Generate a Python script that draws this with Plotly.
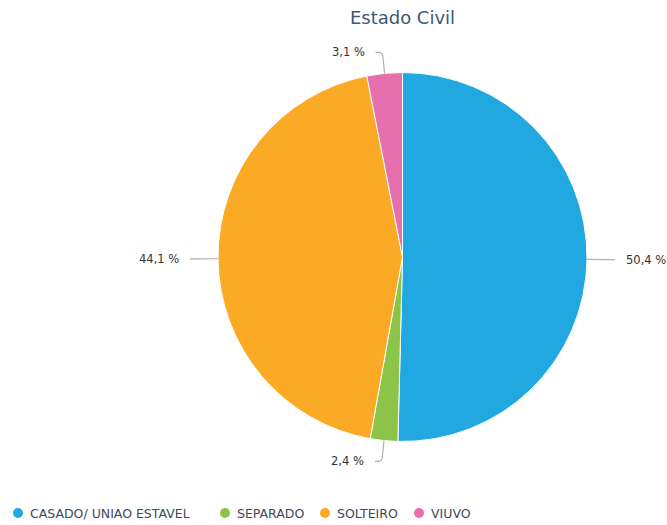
import math
import plotly.graph_objects as go

# Marital status distribution (%)
categories = ["CASADO/ UNIAO ESTAVEL", "SEPARADO", "SOLTEIRO", "VIUVO"]
values = [50.4, 2.4, 44.1, 3.1]
colors = ["#22a8e0", "#8cc44a", "#fbaa26", "#e670ae"]

W, H = 667, 525
CX, CY, R = 402.5, 257.0, 184.5   # pie centre and radius in pixels
FONT = "DejaVu Sans"

# legend row layout (pixel positions of the symbol centres)
LEGEND_Y = 513
LEGEND_X = [18, 225, 325, 419]

fig = go.Figure()

fig.add_trace(go.Pie(
    labels=categories,
    values=values,
    sort=False,
    direction="clockwise",
    rotation=0,
    marker=dict(colors=colors, line=dict(color="white", width=1)),
    textinfo="none",
    hoverinfo="label+percent",
    showlegend=False,
    domain=dict(x=[(CX - R) / W, (CX + R) / W],
                y=[1 - (CY + R) / H, 1 - (CY - R) / H]),
))

shapes, annotations = [], []

# legend: circle symbol followed by the category name
for name, col, lx in zip(categories, colors, LEGEND_X):
    fig.add_trace(go.Scatter(
        x=[lx], y=[LEGEND_Y], mode="markers", name=name,
        marker=dict(symbol="circle", size=10, color=col, line=dict(width=0)),
        showlegend=False, hoverinfo="skip",
    ))
    annotations.append(dict(
        x=lx + 10, y=LEGEND_Y, xref="x", yref="y", text=name,
        showarrow=False, xanchor="left", yanchor="middle",
        font=dict(family=FONT, size=12.5, color="#3a4a60"),
    ))

# outside labels with leader lines, placed from each slice's mid angle
total = sum(values)
cum = 0.0
for v in values:
    ang = (cum + v / 2) / total * 2 * math.pi
    cum += v
    s, c = math.sin(ang), math.cos(ang)
    side = 1 if s >= 0 else -1
    ex, ey = CX + R * s, CY - R * c
    px, py = CX + (R + 21) * s, CY - (R + 21) * c
    ux, uy = (px - ex) / 21, (py - ey) / 21
    bx, by = px - 4 * ux, py - 4 * uy
    qx = px + 7 * side
    path = (f"M {ex:.2f},{ey:.2f} L {bx:.2f},{by:.2f} "
            f"Q {px:.2f},{py:.2f} {px + 4 * side:.2f},{py:.2f} L {qx:.2f},{py:.2f}")
    shapes.append(dict(type="path", path=path, xref="x", yref="y",
                       line=dict(color="#b0b0b0", width=1.2)))
    annotations.append(dict(
        x=qx + 9 * side, y=py, xref="x", yref="y",
        text=f"{v:.1f}".replace(".", ",") + " %",
        showarrow=False, xanchor="left" if side > 0 else "right", yanchor="middle",
        font=dict(family=FONT, size=11.5, color="#333333"),
    ))

fig.update_layout(
    width=W, height=H,
    margin=dict(l=0, r=0, t=0, b=0),
    paper_bgcolor="white", plot_bgcolor="white",
    title=dict(text="Estado Civil", x=CX / W, xanchor="center",
               y=1 - 18 / H, yanchor="middle",
               font=dict(family=FONT, size=18, color="#3e5878")),
    xaxis=dict(range=[0, W], visible=False, fixedrange=True),
    yaxis=dict(range=[H, 0], visible=False, fixedrange=True),
    shapes=shapes,
    annotations=annotations,
    showlegend=False,
)

fig.write_html("out.html")
